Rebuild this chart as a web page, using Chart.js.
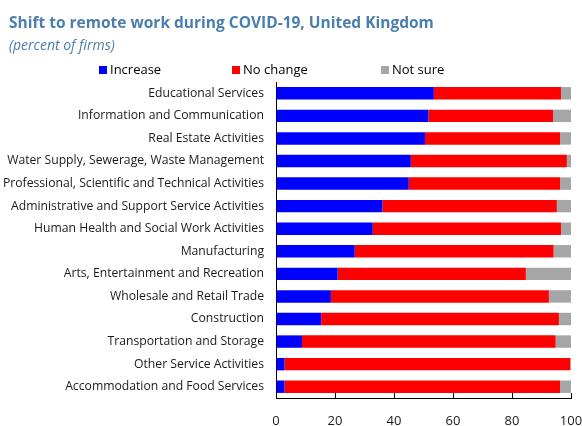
<!DOCTYPE html>
<html>
<head>
    <title>Shift to remote work during COVID-19, United Kingdom</title>
    <script src="https://cdn.jsdelivr.net/npm/chart.js"></script>
    <style>
        html, body { margin: 0; padding: 0; background: #fff; }
        #wrap { width: 582px; height: 426px; }
    </style>
</head>
<body>

<div id="wrap"><canvas id="myChart"></canvas></div>

<script>
    // data (percent of firms)
    var categories = [
        'Educational Services',
        'Information and Communication',
        'Real Estate Activities',
        'Water Supply, Sewerage, Waste Management',
        'Professional, Scientific and Technical Activities',
        'Administrative and Support Service Activities',
        'Human Health and Social Work Activities',
        'Manufacturing',
        'Arts, Entertainment and Recreation',
        'Wholesale and Retail Trade',
        'Construction',
        'Transportation and Storage',
        'Other Service Activities',
        'Accommodation and Food Services'
    ];
    var increase = [53.5, 51.7, 50.5, 45.7, 45.0, 36.1, 32.8, 26.7, 20.9, 18.6, 15.3, 8.8, 2.9, 2.9];
    var noChange = [43.1, 42.2, 45.8, 52.9, 51.3, 59.1, 63.8, 67.4, 63.8, 73.9, 80.6, 86.0, 96.8, 93.4];
    var notSure  = [3.4, 6.1, 3.7, 1.4, 3.7, 4.8, 3.4, 5.9, 15.3, 7.5, 4.1, 5.2, 0.3, 3.7];
    var xTicks = [0, 20, 40, 60, 80, 100];

    var titleText = 'Shift to remote work during COVID-19, United Kingdom';
    var subtitleText = '(percent of firms)';

    var labelFont = '"Open Sans", "Noto Sans", sans-serif';
    var headColor = '#4a7eac';

    // title, subtitle and legend drawn in the space above the plot
    var headerPlugin = {
        id: 'header',
        afterDraw(chart) {
            var ctx = chart.ctx;
            ctx.save();
            ctx.fillStyle = headColor;
            ctx.textBaseline = 'alphabetic';
            ctx.textAlign = 'left';
            ctx.font = 'bold 15.5px ' + labelFont;
            ctx.fillText(titleText, 9, 28);
            ctx.font = 'italic 14px ' + labelFont;
            ctx.fillText(subtitleText, 9, 50);

            var legendX = [99, 232, 381];
            ctx.font = '13px ' + labelFont;
            ctx.textBaseline = 'middle';
            chart.data.datasets.forEach(function (ds, i) {
                ctx.fillStyle = ds.backgroundColor;
                ctx.fillRect(legendX[i], 66, 8, 8);
                ctx.fillStyle = '#000';
                ctx.fillText(ds.label, legendX[i] + 11, 70);
            });
            ctx.restore();
        }
    };

    var ctx = document.getElementById('myChart').getContext('2d');

    var myChart = new Chart(ctx, {
        type: 'bar',
        data: {
            labels: categories,
            datasets: [{
                label: 'Increase',
                data: increase,
                backgroundColor: '#0000ff'
            }, {
                label: 'No change',
                data: noChange,
                backgroundColor: '#ff0000'
            }, {
                label: 'Not sure',
                data: notSure,
                backgroundColor: '#a6a6a6'
            }]
        },
        options: {
            indexAxis: 'y',
            responsive: true,
            maintainAspectRatio: false,
            animation: false,
            devicePixelRatio: 1,
            layout: {
                padding: { top: 82, left: 0, right: 0, bottom: 0 }
            },
            datasets: {
                bar: {
                    barPercentage: 0.55,
                    categoryPercentage: 1,
                    borderWidth: 0
                }
            },
            scales: {
                x: {
                    stacked: true,
                    min: 0,
                    max: 100,
                    afterBuildTicks(scale) {
                        scale.ticks = xTicks.map(function (v) { return { value: v }; });
                    },
                    afterFit(scale) {
                        scale.height = 28;
                        // only room for half of the "100" label on the right
                        scale.paddingLeft = 0;
                        scale.paddingRight = 11;
                    },
                    grid: {
                        drawOnChartArea: false,
                        drawTicks: true,
                        tickLength: -5,
                        color: '#000'
                    },
                    border: { display: true, color: '#000', width: 1 },
                    ticks: {
                        padding: 20,
                        color: '#1a1a1a',
                        font: { family: labelFont, size: 13 }
                    }
                },
                y: {
                    stacked: true,
                    afterFit(scale) {
                        scale.width = 276;
                    },
                    grid: {
                        drawOnChartArea: false,
                        drawTicks: false
                    },
                    border: { display: true, color: '#000', width: 1 },
                    ticks: {
                        padding: 12,
                        autoSkip: false,
                        color: '#1a1a1a',
                        font: { family: labelFont, size: 12.2 }
                    }
                }
            },
            plugins: {
                legend: { display: false },
                title: { display: false },
                tooltip: { enabled: false }
            }
        },
        plugins: [headerPlugin]
    });
</script>

</body>
</html>
